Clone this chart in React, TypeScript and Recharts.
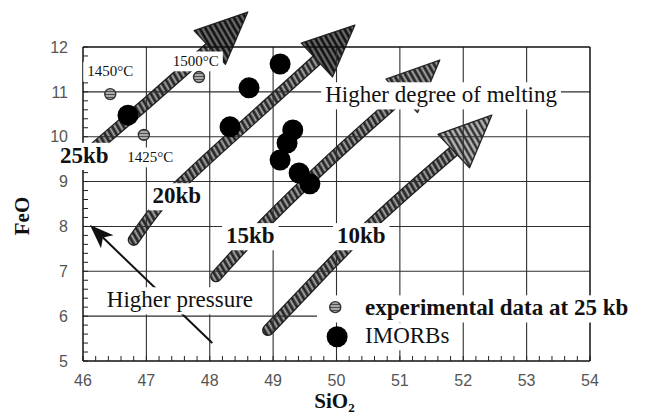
import { ComposedChart, Line, Scatter, XAxis, YAxis, CartesianGrid, ReferenceLine, ReferenceDot, Label } from 'recharts'

// axis tick labels
const xMajor = [46, 47, 48, 49, 50, 51, 52, 53, 54]
const yMajor = [5, 6, 7, 8, 9, 10, 11, 12]

// experimental melts at 25 kb
const expSiO2 = [46.43, 47.83, 46.96]
const expFeO = [10.95, 11.33, 10.04]
const expTemps = ['1450°C', '1500°C', '1425°C']

// IMORBs
const morbSiO2 = [46.71, 48.32, 48.62, 49.11, 49.31, 49.22, 49.11, 49.41, 49.58]
const morbFeO = [10.48, 10.22, 11.09, 11.62, 10.15, 9.86, 9.48, 9.19, 8.95]

// melting trends (shaft points, then arrow head base -> tip)
const pressures = ['25kb', '20kb', '15kb', '10kb']
const shaft25 = [{ x: 46.14, y: 9.7 }, { x: 46.9, y: 10.62 }, { x: 48.0, y: 11.99 }]
const shaft20 = [{ x: 46.8, y: 7.7 }, { x: 47.21, y: 8.48 }, { x: 47.59, y: 9.01 }, { x: 48.64, y: 10.37 }, { x: 49.69, y: 11.71 }]
const shaft15 = [{ x: 48.1, y: 6.89 }, { x: 48.89, y: 8.1 }, { x: 49.9, y: 9.48 }, { x: 51.03, y: 10.91 }]
const shaft10 = [{ x: 48.92, y: 5.69 }, { x: 49.42, y: 6.43 }, { x: 50.21, y: 7.59 }, { x: 51.85, y: 9.68 }]
const heads = [
  [{ x: 48.0, y: 11.99 }, { x: 48.6, y: 12.78 }],
  [{ x: 49.69, y: 11.71 }, { x: 50.29, y: 12.49 }],
  [{ x: 51.03, y: 10.91 }, { x: 51.63, y: 11.71 }],
  [{ x: 51.85, y: 9.68 }, { x: 52.45, y: 10.48 }],
]
const pressureArrow = [{ x: 48.04, y: 5.4 }, { x: 46.11, y: 8.03 }]

const minorTicks = (major: number[]) =>
  major.flatMap((v, i) => (i === major.length - 1 ? [v] : [0, 1, 2, 3, 4].map(k => Math.round((v + k * 0.2) * 10) / 10)))
const xTicks = minorTicks(xMajor)
const yTicks = minorTicks(yMajor)
const fmt = (v: number) => (Number.isInteger(v) ? String(v) : '')

const expData = expSiO2.map((x, i) => ({ x, y: expFeO[i] }))
const morbData = morbSiO2.map((x, i) => ({ x, y: morbFeO[i] }))
const shafts = [shaft25, shaft20, shaft15, shaft10]
const headFills = ['url(#hatchDark)', 'url(#hatchDark)', 'url(#hatchBand)', 'url(#hatchLight)']

type Note = { text: string; x: number; y: number; size: number; bold?: boolean; anchor?: 'start' | 'middle'; padLeft?: number }
const notes: Note[] = [
  { text: expTemps[0], x: 46.43, y: 11.46, size: 15 },
  { text: expTemps[1], x: 47.78, y: 11.69, size: 15 },
  { text: expTemps[2], x: 47.06, y: 9.55, size: 15 },
  { text: pressures[0], x: 46.02, y: 9.59, size: 23, bold: true },
  { text: pressures[1], x: 47.48, y: 8.69, size: 23, bold: true },
  { text: pressures[2], x: 48.64, y: 7.8, size: 23, bold: true },
  { text: pressures[3], x: 50.39, y: 7.8, size: 23, bold: true },
  { text: 'Higher degree of melting', x: 51.65, y: 10.94, size: 23 },
  { text: 'Higher pressure', x: 47.53, y: 6.37, size: 23 },
  { text: 'experimental data at 25 kb', x: 50.45, y: 6.19, size: 23, bold: true, anchor: 'start', padLeft: 44 },
  { text: 'IMORBs', x: 50.45, y: 5.57, size: 23, anchor: 'start' },
]

const measureCtx = typeof document !== 'undefined' ? document.createElement('canvas').getContext('2d') : null
const textWidth = (text: string, font: string, fallback: number) => {
  if (!measureCtx) return fallback
  measureCtx.font = font
  return measureCtx.measureText(text).width
}

const NoteBox = ({ cx, cy, note }: any) => {
  const { text, size, bold, anchor = 'middle', padLeft = 0 } = note as Note
  const w = textWidth(text, `${bold ? 'bold ' : ''}${size}px "Liberation Serif"`, text.length * size * 0.5)
  const left = anchor === 'start' ? cx : cx - w / 2
  return (
    <g>
      <rect x={left - 4 - padLeft} y={cy - size * 0.36 - 4} width={w + 8 + padLeft} height={size * 0.92 + 6} fill="#fff" />
      <text x={left} y={cy + size * 0.33} fontFamily="'Liberation Serif', serif" fontSize={size} fontWeight={bold ? 700 : 400} fill="#111">
        {text}
      </text>
    </g>
  )
}

const HeadShape = ({ x1, y1, x2, y2, fill }: any) => {
  const dx = x2 - x1, dy = y2 - y1
  const len = Math.hypot(dx, dy) || 1
  const px = -dy / len, py = dx / len
  const hw = 23
  return (
    <polygon
      points={`${x1 + px * hw},${y1 + py * hw} ${x2},${y2} ${x1 - px * hw},${y1 - py * hw}`}
      fill={fill}
      stroke="#222"
      strokeWidth={1.3}
      strokeLinejoin="round"
    />
  )
}

const PointerShape = ({ x1, y1, x2, y2 }: any) => {
  const dx = x2 - x1, dy = y2 - y1
  const len = Math.hypot(dx, dy) || 1
  const ux = dx / len, uy = dy / len
  const hl = 24, hw = 9
  const bx = x2 - ux * hl, by = y2 - uy * hl
  const nx = x2 - ux * (hl - 6), ny = y2 - uy * (hl - 6)
  return (
    <g>
      <line x1={x1} y1={y1} x2={nx} y2={ny} stroke="#111" strokeWidth={2} />
      <polygon points={`${x2},${y2} ${bx - uy * hw},${by + ux * hw} ${nx},${ny} ${bx + uy * hw},${by - ux * hw}`} fill="#111" />
    </g>
  )
}

const ExpDot = ({ cx, cy }: any) => (
  <circle cx={cx} cy={cy} r={5.5} fill="url(#dotHatch)" stroke="#333" strokeWidth={1.4} />
)
const MorbDot = ({ cx, cy }: any) => <circle cx={cx} cy={cy} r={10.5} fill="#000" />

const tickStyle = { fill: '#555', fontSize: 16, fontFamily: "'Liberation Sans', sans-serif" }

export default function App() {
  return (
    <div style={{ position: 'absolute', left: 0, top: 0, width: 651, height: 417, background: '#fff' }}>
      <svg width={0} height={0} style={{ position: 'absolute' }}>
        <defs>
          <pattern id="hatchBand" patternUnits="userSpaceOnUse" width={5} height={5} patternTransform="rotate(60)">
            <rect width={5} height={5} fill="#5e5e5e" />
            <line x1={0} y1={1.2} x2={5} y2={1.2} stroke="#1e1e1e" strokeWidth={1.8} />
            <line x1={0} y1={3.7} x2={5} y2={3.7} stroke="#c8c8c8" strokeWidth={0.9} />
          </pattern>
          <pattern id="hatchDark" patternUnits="userSpaceOnUse" width={5} height={5} patternTransform="rotate(60)">
            <rect width={5} height={5} fill="#444" />
            <line x1={0} y1={1.2} x2={5} y2={1.2} stroke="#111" strokeWidth={2.2} />
            <line x1={0} y1={3.8} x2={5} y2={3.8} stroke="#9a9a9a" strokeWidth={0.8} />
          </pattern>
          <pattern id="hatchLight" patternUnits="userSpaceOnUse" width={5} height={5} patternTransform="rotate(60)">
            <rect width={5} height={5} fill="#8a8a8a" />
            <line x1={0} y1={1.2} x2={5} y2={1.2} stroke="#262626" strokeWidth={1.8} />
            <line x1={0} y1={3.7} x2={5} y2={3.7} stroke="#d8d8d8" strokeWidth={0.9} />
          </pattern>
          <pattern id="dotHatch" patternUnits="userSpaceOnUse" width={3} height={3}>
            <rect width={3} height={3} fill="#a8a8a8" />
            <line x1={0} y1={1.5} x2={3} y2={1.5} stroke="#444" strokeWidth={0.9} />
          </pattern>
        </defs>
      </svg>
      <ComposedChart width={651} height={417} margin={{ top: 46, right: 60, bottom: 0, left: 0 }}>
        {shafts.map((s, i) => (
          <Line
            key={`o${i}`}
            data={s}
            dataKey="y"
            type="monotone"
            stroke="#1e1e1e"
            strokeWidth={12}
            strokeLinecap="round"
            dot={false}
            activeDot={false}
            isAnimationActive={false}
            zIndex={-300}
          />
        ))}
        {shafts.map((s, i) => (
          <Line
            key={`f${i}`}
            data={s}
            dataKey="y"
            type="monotone"
            stroke="url(#hatchBand)"
            strokeWidth={9.5}
            strokeLinecap="round"
            dot={false}
            activeDot={false}
            isAnimationActive={false}
            zIndex={-290}
          />
        ))}
        {heads.map((h, i) => (
          <ReferenceLine
            key={`h${i}`}
            segment={h}
            ifOverflow="visible"
            zIndex={-250}
            shape={(p: any) => <HeadShape {...p} fill={headFills[i]} />}
          />
        ))}
        <CartesianGrid
          verticalValues={xMajor.slice(1, -1)}
          horizontalValues={yMajor.slice(1, -1)}
          stroke="#2e2e2e"
          strokeWidth={1.1}
          zIndex={-100}
        />
        <ReferenceLine segment={pressureArrow} ifOverflow="visible" zIndex={300} shape={(p: any) => <PointerShape {...p} />} />
        <XAxis
          type="number"
          dataKey="x"
          domain={[46, 54]}
          ticks={xTicks}
          interval={0}
          tickFormatter={fmt}
          tickSize={-5}
          tickMargin={19}
          height={56}
          tick={tickStyle}
          axisLine={{ stroke: '#111', strokeWidth: 1.5 }}
          tickLine={{ stroke: '#222' }}
        >
          <Label
            content={({ viewBox }: any) => (
              <text
                x={viewBox.x + viewBox.width / 2 - 2}
                y={viewBox.y + 47}
                textAnchor="middle"
                fontFamily="'Liberation Serif', serif"
                fontWeight={700}
                fontSize={21}
                fill="#111"
              >
                SiO<tspan dy={4} fontSize={13}>2</tspan>
              </text>
            )}
          />
        </XAxis>
        <XAxis
          xAxisId="top"
          orientation="top"
          type="number"
          domain={[46, 54]}
          ticks={xTicks}
          interval={0}
          tickFormatter={() => ''}
          tickSize={-5}
          height={1}
          axisLine={{ stroke: '#111', strokeWidth: 1.5 }}
          tickLine={{ stroke: '#222' }}
        />
        <YAxis
          type="number"
          dataKey="y"
          domain={[5, 12]}
          ticks={yTicks}
          interval={0}
          tickFormatter={fmt}
          tickSize={-5}
          tickMargin={20}
          width={83}
          tick={tickStyle}
          axisLine={{ stroke: '#111', strokeWidth: 1.5 }}
          tickLine={{ stroke: '#222' }}
        >
          <Label
            content={() => (
              <text
                x={29}
                y={216}
                transform="rotate(-90, 29, 216)"
                textAnchor="middle"
                fontFamily="'Liberation Serif', serif"
                fontWeight={700}
                fontSize={21}
                fill="#111"
              >
                FeO
              </text>
            )}
          />
        </YAxis>
        <YAxis
          yAxisId="right"
          orientation="right"
          type="number"
          domain={[5, 12]}
          ticks={yTicks}
          interval={0}
          tickFormatter={() => ''}
          tickSize={-5}
          width={1}
          axisLine={{ stroke: '#111', strokeWidth: 1.5 }}
          tickLine={{ stroke: '#222' }}
        />
        {notes.map((n, i) => (
          <ReferenceDot key={`n${i}`} x={n.x} y={n.y} ifOverflow="visible" zIndex={550} shape={(p: any) => <NoteBox {...p} note={n} />} />
        ))}
        <Scatter data={expData} shape={<ExpDot />} isAnimationActive={false} zIndex={600} />
        <Scatter data={morbData} shape={<MorbDot />} isAnimationActive={false} zIndex={600} />
        <ReferenceDot x={49.98} y={6.2} ifOverflow="visible" zIndex={650} shape={(p: any) => <ExpDot {...p} />} />
        <ReferenceDot x={50.01} y={5.54} ifOverflow="visible" zIndex={650} shape={(p: any) => <MorbDot {...p} />} />
      </ComposedChart>
    </div>
  )
}
